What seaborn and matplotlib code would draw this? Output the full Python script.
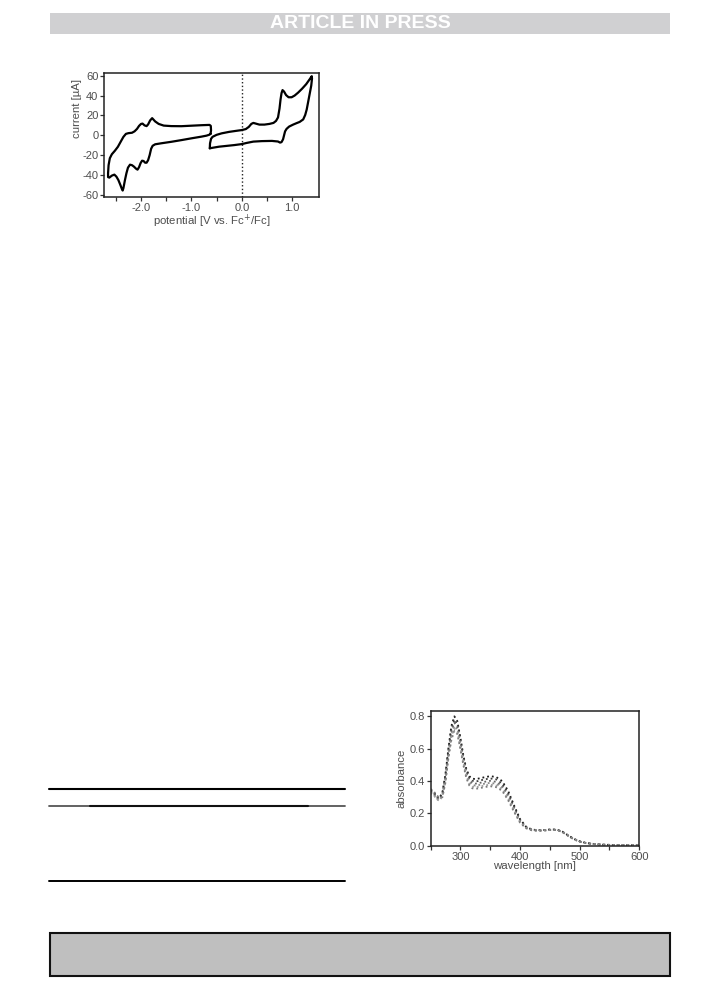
import seaborn as sns
import matplotlib.pyplot as plt
import pandas as pd
from matplotlib.patches import Rectangle
from matplotlib.lines import Line2D

# cyclic voltammogram, reduction loop (potential in V vs Fc+/Fc, current in uA)
cv_red_potential = [-0.62, -0.61, -0.615, -0.64, -0.8, -1.0, -1.2, -1.4, -1.55, -1.65, -1.72, -1.78,
                    -1.82, -1.86, -1.89, -1.93, -1.97, -2.0, -2.04, -2.08, -2.13, -2.18, -2.25, -2.30,
                    -2.35, -2.40, -2.46, -2.52, -2.58, -2.62, -2.645, -2.655, -2.655,
                    -2.63, -2.58, -2.53, -2.49, -2.45, -2.41, -2.38, -2.365, -2.35, -2.32, -2.29,
                    -2.26, -2.22, -2.18, -2.14, -2.10, -2.07, -2.04, -2.01, -1.98, -1.95, -1.92,
                    -1.89, -1.86, -1.83, -1.80, -1.77, -1.72, -1.6, -1.4, -1.2, -1.0, -0.8, -0.7,
                    -0.64, -0.62]
cv_red_current = [1.5, 5.0, 9.5, 10.5, 10.2, 9.7, 9.2, 9.3, 9.8, 11.5, 14.0, 17.3,
                  15.0, 11.0, 9.3, 10.0, 11.8, 11.5, 9.5, 6.5, 4.0, 2.6, 2.2, 1.5,
                  -1.5, -6.0, -11.5, -15.5, -19.0, -23.0, -30.0, -38.0, -42.0,
                  -42.5, -40.5, -39.5, -41.5, -45.0, -50.0, -54.0, -55.5, -53.0, -45.0, -38.0,
                  -32.5, -29.5, -30.0, -31.5, -33.5, -34.5, -32.0, -28.0, -25.5, -25.8, -27.5,
                  -27.5, -25.0, -20.0, -13.5, -10.5, -9.0, -8.0, -6.5, -4.8, -3.0, -1.3, -0.3,
                  0.7, 1.5]

# cyclic voltammogram, oxidation loop
cv_ox_potential = [-0.635, -0.63, -0.61, -0.58, -0.5, -0.4, -0.25, -0.1, 0.0, 0.08, 0.14, 0.19,
                   0.23, 0.28, 0.35, 0.45, 0.55, 0.63, 0.68, 0.72, 0.75, 0.77, 0.79, 0.81, 0.84,
                   0.88, 0.93, 0.99, 1.05, 1.12, 1.2, 1.28, 1.35, 1.39,
                   1.395, 1.38, 1.35, 1.32, 1.29, 1.26, 1.22, 1.15, 1.09, 1.02, 0.94, 0.89, 0.86,
                   0.84, 0.82, 0.79, 0.76, 0.72, 0.6, 0.4, 0.23, 0.1, 0.0, -0.15, -0.3, -0.45,
                   -0.58, -0.635]
cv_ox_current = [-13.0, -8.0, -3.5, -1.5, 0.5, 2.0, 3.5, 4.6, 5.3, 6.3, 8.5, 11.5,
                 12.5, 11.8, 10.8, 10.8, 11.5, 12.5, 14.5, 18.0, 27.0, 36.0, 42.5, 45.5, 44.0,
                 40.5, 38.3, 38.3, 40.0, 43.0, 47.0, 51.5, 56.5, 59.5,
                 57.0, 50.0, 42.0, 34.0, 26.0, 20.5, 16.0, 13.5, 12.3, 10.8, 8.8, 6.5, 4.0,
                 0.0, -4.0, -6.8, -7.3, -6.2, -5.6, -5.8, -6.3, -7.6, -8.8, -9.8, -10.6, -11.4,
                 -12.5, -13.0]

# UV-vis spectra
wavelength = [250, 255, 260, 265, 270, 275, 280, 285, 290, 295, 300, 305, 310, 315, 320, 325,
              330, 340, 350, 360, 370, 380, 390, 400, 410, 420, 430, 440, 450, 460, 470, 480,
              490, 500, 510, 520, 540, 560, 580, 600]
abs_1 = [0.345, 0.335, 0.305, 0.295, 0.33, 0.44, 0.60, 0.74, 0.80, 0.77, 0.67, 0.56, 0.475, 0.43,
         0.415, 0.412, 0.415, 0.423, 0.43, 0.425, 0.40, 0.34, 0.25, 0.165, 0.118, 0.100, 0.096,
         0.097, 0.100, 0.100, 0.090, 0.066, 0.043, 0.027, 0.018, 0.012, 0.006, 0.004, 0.003, 0.002]
abs_2 = [0.34, 0.33, 0.30, 0.29, 0.32, 0.43, 0.59, 0.72, 0.78, 0.75, 0.655, 0.55, 0.465, 0.42,
         0.402, 0.398, 0.40, 0.41, 0.416, 0.41, 0.385, 0.325, 0.24, 0.16, 0.116, 0.099, 0.095,
         0.096, 0.099, 0.099, 0.089, 0.065, 0.042, 0.026, 0.017, 0.012, 0.006, 0.004, 0.003, 0.002]
abs_3 = [0.335, 0.325, 0.295, 0.285, 0.315, 0.42, 0.575, 0.70, 0.76, 0.735, 0.64, 0.535, 0.452,
         0.405, 0.388, 0.384, 0.386, 0.395, 0.401, 0.395, 0.37, 0.31, 0.23, 0.155, 0.114, 0.098,
         0.094, 0.095, 0.098, 0.098, 0.088, 0.064, 0.041, 0.026, 0.017, 0.011, 0.006, 0.004,
         0.003, 0.002]
abs_4 = [0.33, 0.32, 0.29, 0.28, 0.31, 0.41, 0.56, 0.685, 0.74, 0.72, 0.625, 0.52, 0.44, 0.393,
         0.376, 0.372, 0.374, 0.383, 0.389, 0.383, 0.36, 0.30, 0.222, 0.15, 0.112, 0.097, 0.094,
         0.095, 0.098, 0.098, 0.088, 0.064, 0.041, 0.025, 0.017, 0.011, 0.006, 0.004, 0.003, 0.002]
abs_5 = [0.325, 0.315, 0.288, 0.278, 0.305, 0.40, 0.55, 0.67, 0.725, 0.705, 0.612, 0.51, 0.43,
         0.383, 0.366, 0.362, 0.364, 0.372, 0.378, 0.372, 0.35, 0.29, 0.215, 0.146, 0.11, 0.096,
         0.093, 0.094, 0.097, 0.097, 0.087, 0.063, 0.040, 0.025, 0.016, 0.011, 0.006, 0.004,
         0.003, 0.002]
abs_6 = [0.35, 0.34, 0.31, 0.30, 0.30, 0.39, 0.54, 0.655, 0.71, 0.69, 0.60, 0.50, 0.42, 0.373,
         0.355, 0.352, 0.354, 0.362, 0.368, 0.362, 0.34, 0.282, 0.21, 0.143, 0.108, 0.095, 0.093,
         0.094, 0.097, 0.097, 0.087, 0.063, 0.040, 0.025, 0.016, 0.011, 0.006, 0.004, 0.003, 0.002]
spectra = [abs_1, abs_2, abs_3, abs_4, abs_5, abs_6]
spectra_colors = ['#1a1a1a', '#3c3c3c', '#666666', '#888888', '#a0a0a0', '#7a7a7a']

sns.set_theme(style='ticks')
plt.rcParams['font.family'] = ['Liberation Sans', 'DejaVu Sans']
plt.rcParams['text.color'] = '#4d4d4d'
plt.rcParams['axes.labelcolor'] = '#4d4d4d'
plt.rcParams['xtick.color'] = '#333333'
plt.rcParams['ytick.color'] = '#333333'
plt.rcParams['xtick.labelcolor'] = '#4d4d4d'
plt.rcParams['ytick.labelcolor'] = '#4d4d4d'

W, H = 725, 989
fig = plt.figure(figsize=(7.25, 9.89), dpi=100)
fig.patch.set_facecolor('white')


def fx(x):
    return x / W


def fy(y):
    return 1 - y / H


# header banner
fig.patches.append(Rectangle((fx(50), fy(34)), fx(620), 21 / H, transform=fig.transFigure,
                             facecolor='#d0d0d2', edgecolor='none'))
fig.text(fx(360), fy(23.5), 'ARTICLE IN PRESS', color='white', fontsize=14, fontweight='bold',
         ha='center', va='center')

# table rules
fig.lines.append(Line2D([fx(49), fx(345)], [fy(789), fy(789)], transform=fig.transFigure,
                        color='black', lw=1.5))
fig.lines.append(Line2D([fx(49), fx(345)], [fy(805.7), fy(805.7)], transform=fig.transFigure,
                        color='#555555', lw=1.3))
fig.lines.append(Line2D([fx(90), fx(308)], [fy(805.7), fy(805.7)], transform=fig.transFigure,
                        color='#111111', lw=1.5))
fig.lines.append(Line2D([fx(49), fx(345)], [fy(881), fy(881)], transform=fig.transFigure,
                        color='black', lw=1.4))

# bottom box
fig.patches.append(Rectangle((fx(50), fy(976)), fx(620), 43 / H, transform=fig.transFigure,
                             facecolor='#bfbfbf', edgecolor='#111111', lw=1.5))


def style_axes(ax):
    for s in ax.spines.values():
        s.set_visible(True)
        s.set_color('#222222')
        s.set_linewidth(1.1)
    ax.tick_params(which='both', direction='out', width=0.9, labelsize=8, pad=1.5)
    ax.tick_params(which='major', length=2.8)
    ax.tick_params(which='minor', length=2.8)
    ax.xaxis.label.set_size(8.2)
    ax.yaxis.label.set_size(8.2)


# cyclic voltammogram
ax1 = fig.add_axes([fx(104.3), fy(196.7), fx(215), 124 / H])
ax1.axvline(0, color='#222222', lw=1.0, ls=':')
cv_red = pd.DataFrame({'potential': cv_red_potential, 'current': cv_red_current})
cv_ox = pd.DataFrame({'potential': cv_ox_potential, 'current': cv_ox_current})
sns.lineplot(data=cv_red, x='potential', y='current', sort=False, estimator=None,
             color='black', lw=1.6, ax=ax1)
sns.lineplot(data=cv_ox, x='potential', y='current', sort=False, estimator=None,
             color='black', lw=1.6, ax=ax1)
ax1.set_xlim(-2.73, 1.54)
ax1.set_ylim(-61.7, 63)
ax1.set_xticks([-2.0, -1.0, 0.0, 1.0])
ax1.set_xticklabels(['-2.0', '-1.0', '0.0', '1.0'])
ax1.set_xticks([-2.5, -1.5, -0.5, 0.5], minor=True)
ax1.set_yticks([-60, -40, -20, 0, 20, 40, 60])
ax1.set_yticklabels(['-60', '-40', '-20', '0', '20', '40', '60'])
ax1.set_xlabel('potential [V vs. Fc$^{+}$/Fc]', labelpad=0)
ax1.set_ylabel('current [\u00b5A]')
ax1.yaxis.set_label_coords(-0.105, 0.71)
style_axes(ax1)

# UV-vis spectra
ax2 = fig.add_axes([fx(430.5), fy(845.7), fx(208.8), 135 / H])
for vals, col in zip(spectra, spectra_colors):
    df = pd.DataFrame({'wavelength': wavelength, 'absorbance': vals})
    sns.lineplot(data=df, x='wavelength', y='absorbance', sort=False, estimator=None,
                 color=col, lw=1.3, ls=':', ax=ax2)
ax2.set_xlim(250, 600)
ax2.set_ylim(0, 0.835)
ax2.set_xticks([300, 400, 500, 600])
ax2.set_xticks([250, 350, 450, 550], minor=True)
ax2.set_yticks([0.0, 0.2, 0.4, 0.6, 0.8])
ax2.set_yticklabels(['0.0', '0.2', '0.4', '0.6', '0.8'])
ax2.set_xlabel('wavelength [nm]', labelpad=-0.5)
ax2.set_ylabel('absorbance', labelpad=2)
style_axes(ax2)

fig.savefig('out.png', dpi=100, facecolor='white')
